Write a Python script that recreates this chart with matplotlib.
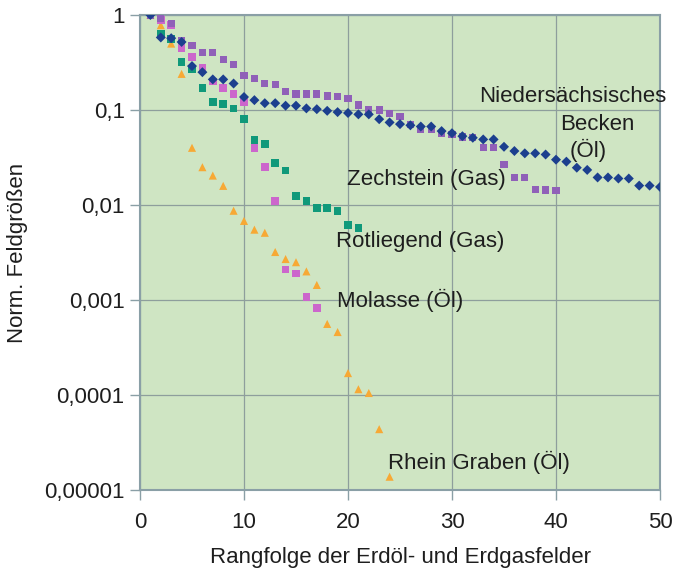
import matplotlib
matplotlib.use("Agg")
import matplotlib.pyplot as plt
from matplotlib.ticker import FixedLocator, NullLocator

# Niedersächsisches Becken (Öl)
nds_vals = [1.0, 0.58, 0.57, 0.52, 0.29, 0.25, 0.21, 0.21, 0.19, 0.137,
            0.127, 0.118, 0.118, 0.111, 0.111, 0.104, 0.102, 0.098, 0.095, 0.093,
            0.09, 0.09, 0.080, 0.074, 0.071, 0.069, 0.067, 0.067, 0.06, 0.057,
            0.053, 0.051, 0.049, 0.049, 0.041, 0.037, 0.035, 0.035, 0.034, 0.030,
            0.0286, 0.0247, 0.0234, 0.0195, 0.0195, 0.019, 0.019, 0.016, 0.016, 0.0155]
# Zechstein (Gas)
zech_vals = [1.0, 0.92, 0.82, 0.54, 0.48, 0.40, 0.40, 0.34, 0.30, 0.23,
             0.215, 0.19, 0.185, 0.156, 0.147, 0.147, 0.147, 0.14, 0.138, 0.133,
             0.113, 0.102, 0.1, 0.092, 0.086, 0.07, 0.062, 0.062, 0.057, 0.055,
             0.052, 0.051, 0.040, 0.040, 0.0265, 0.0195, 0.0195, 0.0145, 0.0144, 0.0143]
# Rotliegend (Gas)
rot_vals = [1.0, 0.63, 0.56, 0.32, 0.27, 0.17, 0.122, 0.116, 0.104, 0.080,
            0.048, 0.044, 0.0275, 0.023, 0.0125, 0.011, 0.0093, 0.0093, 0.0087, 0.0062,
            0.0057]
# Molasse (Öl)
mol_vals = [1.0, 0.88, 0.78, 0.45, 0.36, 0.275, 0.2, 0.17, 0.147, 0.122,
            0.04, 0.025, 0.011, 0.0021, 0.0019, 0.00107, 0.00082]
# Rhein Graben (Öl)
rhein_vals = [1.0, 0.78, 0.5, 0.24, 0.04, 0.025, 0.0204, 0.0159, 0.0087, 0.0068,
              0.0055, 0.0051, 0.0032, 0.0027, 0.0025, 0.002, 0.00144, 0.00056, 0.00046, 0.00017,
              0.000115, 0.000105, 0.0000437, 0.0000138]

x_ticks = [0, 10, 20, 30, 40, 50]
y_ticks = [1, 0.1, 0.01, 0.001, 0.0001, 0.00001]
y_tick_labels = ["1", "0,1", "0,01", "0,001", "0,0001", "0,00001"]

series_labels = [("Niedersächsisches", 573, 97), ("Becken", 597, 125), ("(Öl)", 588, 150),
                 ("Zechstein (Gas)", 426, 180), ("Rotliegend (Gas)", 420, 242),
                 ("Molasse (Öl)", 400, 300), ("Rhein Graben (Öl)", 479, 462)]

plt.rcParams['font.family'] = ['Liberation Sans', 'DejaVu Sans']

fig = plt.figure(figsize=(6.74, 5.75), dpi=100)
ax = fig.add_axes([140/674, 1-490/575, 520/674, 475/575])
ax.set_facecolor('#cfe5c3')

frame_col = '#8a9fa6'
grid_col = '#8e9e9c'
txt_col = '#1e1e1e'
fs = 16


def ranks(v):
    return list(range(1, len(v) + 1))


ax.scatter(ranks(rhein_vals), rhein_vals, marker='^', s=34, color='#f7a935', edgecolors='none', zorder=3)
ax.scatter(ranks(mol_vals), mol_vals, marker='s', s=30, color='#cc66cc', edgecolors='none', zorder=3)
ax.scatter(ranks(rot_vals), rot_vals, marker='s', s=30, color='#10997a', edgecolors='none', zorder=3)
ax.scatter(ranks(zech_vals), zech_vals, marker='s', s=28, color='#9060b8', edgecolors='none', zorder=4)
ax.scatter(ranks(nds_vals), nds_vals, marker='D', s=26, color='#1c3f8e', edgecolors='none', zorder=5)

ax.set_yscale('log')
ax.set_xlim(0, 50)
ax.set_ylim(0.00001, 1)
ax.xaxis.set_major_locator(FixedLocator(x_ticks))
ax.yaxis.set_major_locator(FixedLocator(y_ticks))
ax.yaxis.set_minor_locator(NullLocator())
ax.set_yticklabels(y_tick_labels)
ax.grid(True, color=grid_col, linewidth=0.9, zorder=1)
ax.set_axisbelow(True)
for sp in ax.spines.values():
    sp.set_color(frame_col)
    sp.set_linewidth(1.5)
ax.tick_params(axis='both', colors=frame_col, labelcolor=txt_col, labelsize=fs,
               length=7, width=1)
ax.tick_params(axis='x', pad=9)
ax.tick_params(axis='y', pad=4)

ax.set_xlabel("Rangfolge der Erdöl- und Erdgasfelder", fontsize=fs, color=txt_col, labelpad=10)
ax.set_ylabel("Norm. Feldgrößen", fontsize=fs, color=txt_col, labelpad=12)

for s, px, py in series_labels:
    fig.text(px/674, 1-py/575, s, fontsize=fs, color=txt_col, ha='center', va='center')

fig.savefig("out.png", dpi=100)
